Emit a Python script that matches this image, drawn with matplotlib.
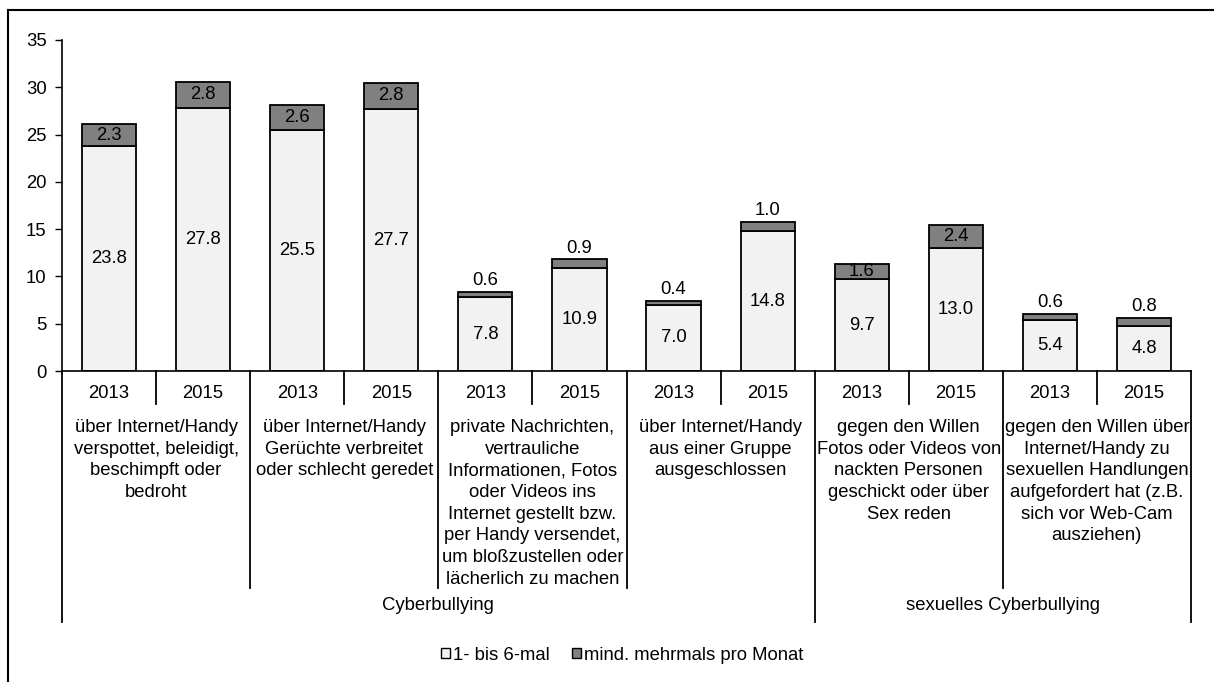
import numpy as np
import matplotlib
matplotlib.use("Agg")
import matplotlib.pyplot as plt
from matplotlib.patches import Patch
from matplotlib.lines import Line2D

plt.rcParams['font.family'] = ['Liberation Sans', 'DejaVu Sans']

years = ['2013', '2015'] * 6
light = [23.8, 27.8, 25.5, 27.7, 7.8, 10.9, 7.0, 14.8, 9.7, 13.0, 5.4, 4.8]
dark = [2.3, 2.8, 2.6, 2.8, 0.6, 0.9, 0.4, 1.0, 1.6, 2.4, 0.6, 0.8]
items = [
    'über Internet/Handy\nverspottet, beleidigt,\nbeschimpft oder\nbedroht',
    'über Internet/Handy\nGerüchte verbreitet\noder schlecht geredet',
    'private Nachrichten,\nvertrauliche\nInformationen, Fotos\noder Videos ins\nInternet gestellt bzw.\nper Handy versendet,\num bloßzustellen oder\nlächerlich zu machen',
    'über Internet/Handy\naus einer Gruppe\nausgeschlossen',
    'gegen den Willen\nFotos oder Videos von\nnackten Personen\ngeschickt oder über\nSex reden',
    'gegen den Willen über\nInternet/Handy zu\nsexuellen Handlungen\naufgefordert hat (z.B.\nsich vor Web-Cam\nausziehen)',
]
groups = ['Cyberbullying', 'sexuelles Cyberbullying']
group_span = [(0, 8), (8, 12)]
legend_labels = ['1- bis 6-mal', 'mind. mehrmals pro Monat']

c_light = '#f2f2f2'
c_dark = '#808080'
fs = 13.3

fig = plt.figure(figsize=(12.14, 6.82), dpi=100)
ax = fig.add_axes([62/1214, 1-371/682, (1191-62)/1214, 331/682])

x = np.arange(len(light)) + 0.5
w = 0.575
ax.bar(x, light, w, color=c_light, edgecolor='black', linewidth=1.3)
ax.bar(x, dark, w, bottom=light, color=c_dark, edgecolor='black', linewidth=1.3)

for xi, l, d in zip(x, light, dark):
    ax.text(xi, l / 2, f'{l:.1f}', ha='center', va='center', fontsize=fs)
    if d >= 1.5:
        ax.text(xi, l + d / 2, f'{d:.1f}', ha='center', va='center', fontsize=fs)
    else:
        ax.text(xi, l + d + 0.3, f'{d:.1f}', ha='center', va='bottom', fontsize=fs)

ax.set_xlim(0, 12)
ax.set_ylim(0, 35)
ax.set_yticks(range(0, 36, 5))
ax.tick_params(axis='y', direction='out', length=5, width=1, labelsize=fs, pad=6)
ax.set_xticks([])
for s in ['top', 'right']:
    ax.spines[s].set_visible(False)
ax.spines['left'].set_linewidth(1.2)
ax.spines['bottom'].set_linewidth(1.2)

tr = ax.get_xaxis_transform()
px = 1 / 331
# separators of the multi-level axis
for i in range(13):
    if i in (0, 8, 12):
        depth = 251
    elif i % 2 == 0:
        depth = 217
    else:
        depth = 33
    ax.add_line(Line2D([i, i], [0, -depth * px], transform=tr, color='black',
                       lw=1.3, clip_on=False))

for xi, yr in zip(x, years):
    ax.text(xi, -22 * px, yr, transform=tr, ha='center', va='center', fontsize=fs)
for j, lab in enumerate(items):
    ax.text(2 * j + 1, -48 * px, lab, transform=tr, ha='center', va='top',
            fontsize=fs, linespacing=1.36)
for g, (a, b) in zip(groups, group_span):
    ax.text((a + b) / 2, -234 * px, g, transform=tr, ha='center', va='center', fontsize=fs)

handles = [Patch(facecolor=c_light, edgecolor='black', lw=1),
           Patch(facecolor=c_dark, edgecolor='black', lw=1)]
fig.legend(handles, legend_labels, loc='center', bbox_to_anchor=(622/1214, 1-655/682),
           ncol=2, frameon=False, fontsize=fs, handlelength=0.5, handleheight=0.5,
           handletextpad=0.15, columnspacing=1.2)

# outer frame (left and top edges)
fig.add_artist(Line2D([8/1214, 8/1214], [0, 1-10/682], color='black', lw=1.5,
                      transform=fig.transFigure))
fig.add_artist(Line2D([8/1214, 1], [1-10/682, 1-10/682], color='black', lw=1.5,
                      transform=fig.transFigure))

fig.savefig('out.png', dpi=100)
